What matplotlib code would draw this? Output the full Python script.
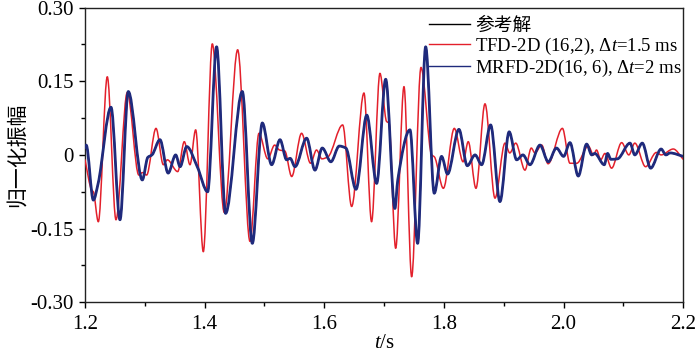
import matplotlib
matplotlib.use("Agg")
import matplotlib.pyplot as plt
from matplotlib.ticker import MultipleLocator, FormatStrFormatter
from matplotlib.path import Path
from matplotlib.patches import PathPatch
from matplotlib.lines import Line2D

# ---- data ----
t_mrfd = [1.200, 1.202, 1.214, 1.222, 1.2435, 1.2585, 1.2724, 1.2958, 1.305, 1.312,
          1.3253, 1.339, 1.3516, 1.359, 1.370, 1.388, 1.405, 1.420, 1.435, 1.463,
          1.4797, 1.4964, 1.512, 1.526, 1.537, 1.543, 1.551, 1.5705, 1.5844, 1.5966,
          1.611, 1.625, 1.636, 1.653, 1.671, 1.6875, 1.7026, 1.718, 1.7228, 1.7432,
          1.756, 1.7694, 1.7838, 1.796, 1.806, 1.825, 1.839, 1.852, 1.863, 1.878,
          1.8936, 1.909, 1.9215, 1.932, 1.9437, 1.9605, 1.9744, 1.988, 2.000, 2.0106,
          2.0245, 2.0385, 2.047, 2.052, 2.068, 2.0735, 2.079, 2.090, 2.111, 2.119,
          2.1315, 2.1455, 2.163, 2.171, 2.178, 2.200]
v_mrfd = [0.015, 0.020, -0.092, -0.058, 0.097, -0.132, 0.129, -0.051, -0.005, 0.000,
          0.031, -0.037, 0.000, -0.024, 0.017, -0.025, -0.075, 0.220, -0.119, 0.129,
          -0.180, 0.065, -0.020, 0.031, -0.010, -0.007, -0.024, 0.034, -0.031, 0.014,
          -0.014, 0.018, 0.014, -0.070, 0.081, -0.058, 0.154, -0.109, -0.051, 0.051,
          -0.180, 0.220, -0.078, -0.003, -0.039, 0.052, -0.022, 0.000, -0.020, 0.061,
          -0.095, 0.047, -0.010, 0.000, -0.020, 0.020, -0.014, 0.014, -0.003, 0.025,
          -0.043, 0.022, 0.000, 0.003, -0.020, 0.003, -0.009, -0.008, 0.024, 0.000,
          0.024, -0.027, 0.012, 0.000, 0.004, -0.003]

# reference solution: practically coincides with MRFD-2D
t_ref = list(t_mrfd)
v_ref = list(v_mrfd)

t_tfd = [1.200, 1.211, 1.214, 1.2223, 1.2373, 1.2518, 1.2707, 1.290, 1.296, 1.303,
         1.3187, 1.331, 1.3377, 1.355, 1.366, 1.3755, 1.385, 1.3978, 1.4128, 1.4328,
         1.4552, 1.4758, 1.4908, 1.5055, 1.517, 1.525, 1.534, 1.5455, 1.562, 1.577,
         1.587, 1.596, 1.606, 1.6307, 1.6457, 1.6663, 1.679, 1.693, 1.7041, 1.708,
         1.7193, 1.7332, 1.746, 1.7616, 1.7795, 1.784, 1.799, 1.8173, 1.832, 1.8406,
         1.8535, 1.8686, 1.8853, 1.902, 1.910, 1.920, 1.9354, 1.946, 1.952, 1.9634,
         1.974, 1.998, 2.0106, 2.022, 2.0413, 2.050, 2.055, 2.062, 2.069, 2.0802,
         2.097, 2.109, 2.119, 2.137, 2.155, 2.163, 2.1833, 2.200]
v_tfd = [-0.010, -0.071, -0.075, -0.136, 0.159, -0.132, 0.127, -0.041, -0.036, -0.041,
         0.054, -0.020, -0.010, -0.034, 0.027, -0.020, 0.051, -0.197, 0.226, -0.117,
         0.214, -0.176, 0.044, -0.008, 0.020, 0.010, 0.008, -0.044, 0.044, -0.017,
         0.010, -0.008, -0.004, 0.061, -0.105, 0.126, -0.136, 0.166, 0.068, 0.065,
         -0.190, 0.139, -0.248, 0.178, 0.000, -0.004, -0.068, 0.054, -0.014, 0.027,
         -0.068, 0.104, -0.088, 0.024, 0.004, 0.024, -0.031, 0.014, 0.004, 0.020,
         -0.018, 0.054, -0.017, -0.017, 0.018, 0.000, 0.010, -0.010, 0.003, -0.027,
         0.025, 0.000, 0.024, -0.024, 0.005, 0.000, 0.012, -0.009]

labels = ["参考解", "TFD-2D (16,2), Δ$t$=1.5 ms", "MRFD-2D(16, 6), Δ$t$=2 ms"]
colors = ['black', '#E3202B', '#1F2A7C']
x_ticks = [1.2, 1.4, 1.6, 1.8, 2.0, 2.2]
y_ticks = [-0.30, -0.15, 0, 0.15, 0.30]
y_ticklabels = ['-0.30', '-0.15', '0', '0.15', '0.30']

plt.rcParams['font.family'] = ['Liberation Serif', 'Noto Sans CJK SC']
plt.rcParams['mathtext.fontset'] = 'custom'
plt.rcParams['mathtext.it'] = 'Liberation Serif:italic'
plt.rcParams['mathtext.rm'] = 'Liberation Serif'


def smooth_path(xs, ys):
    """Shape-preserving (monotone cubic) curve through the read points, as Bezier path."""
    n = len(xs)
    h = [xs[i + 1] - xs[i] for i in range(n - 1)]
    d = [(ys[i + 1] - ys[i]) / h[i] for i in range(n - 1)]
    m = [0.0] * n
    m[0] = d[0]
    m[-1] = d[-1]
    for i in range(1, n - 1):
        if d[i - 1] * d[i] <= 0:
            m[i] = 0.0
        else:
            w1 = 2 * h[i] + h[i - 1]
            w2 = h[i] + 2 * h[i - 1]
            m[i] = (w1 + w2) / (w1 / d[i - 1] + w2 / d[i])
    verts = [(xs[0], ys[0])]
    codes = [Path.MOVETO]
    for i in range(n - 1):
        dx = h[i] / 3.0
        verts += [(xs[i] + dx, ys[i] + m[i] * dx),
                  (xs[i + 1] - dx, ys[i + 1] - m[i + 1] * dx),
                  (xs[i + 1], ys[i + 1])]
        codes += [Path.CURVE4] * 3
    return Path(verts, codes)


fig = plt.figure(figsize=(7.0, 3.54), dpi=100)
ax = fig.add_axes([0.1214, 0.146, 0.8547, 0.8328])

series = [(t_ref, v_ref, 1.0, 2), (t_tfd, v_tfd, 1.1, 3), (t_mrfd, v_mrfd, 2.0, 4)]
handles = []
for (xs, ys, lw, z), c, lab in zip(series, colors, labels):
    ax.add_patch(PathPatch(smooth_path(xs, ys), facecolor='none', edgecolor=c,
                           lw=lw, zorder=z, capstyle='round', joinstyle='round'))
    handles.append(Line2D([], [], color=c, lw=1.0, label=lab))

ax.set_xlim(1.2, 2.2)
ax.set_ylim(-0.30, 0.30)
ax.set_xticks(x_ticks)
ax.set_yticks(y_ticks)
ax.xaxis.set_minor_locator(MultipleLocator(0.1))
ax.yaxis.set_minor_locator(MultipleLocator(0.075))
ax.xaxis.set_major_formatter(FormatStrFormatter('%.1f'))
ax.set_yticklabels(y_ticklabels)
ax.tick_params(which='major', direction='out', length=4, width=1, labelsize=15,
               top=False, right=False)
ax.tick_params(axis='x', which='major', pad=5)
ax.tick_params(axis='y', which='major', pad=4)
ax.tick_params(which='minor', direction='out', length=3, width=1, top=False, right=False)
for s in ax.spines.values():
    s.set_linewidth(1.0)
    s.set_color('#222222')

ax.set_xlabel('$t$/s', fontsize=15, labelpad=0)
ax.set_ylabel('归一化振幅', fontsize=15, family=['Noto Sans CJK SC'], labelpad=2)

ax.legend(handles=handles, loc='upper right', bbox_to_anchor=(1.0067, 0.986),
          frameon=False, fontsize=13.5, handlelength=2.15, handletextpad=0.27,
          labelspacing=0.05, borderaxespad=0.0, borderpad=0.3)

fig.savefig('out.png', dpi=100)
